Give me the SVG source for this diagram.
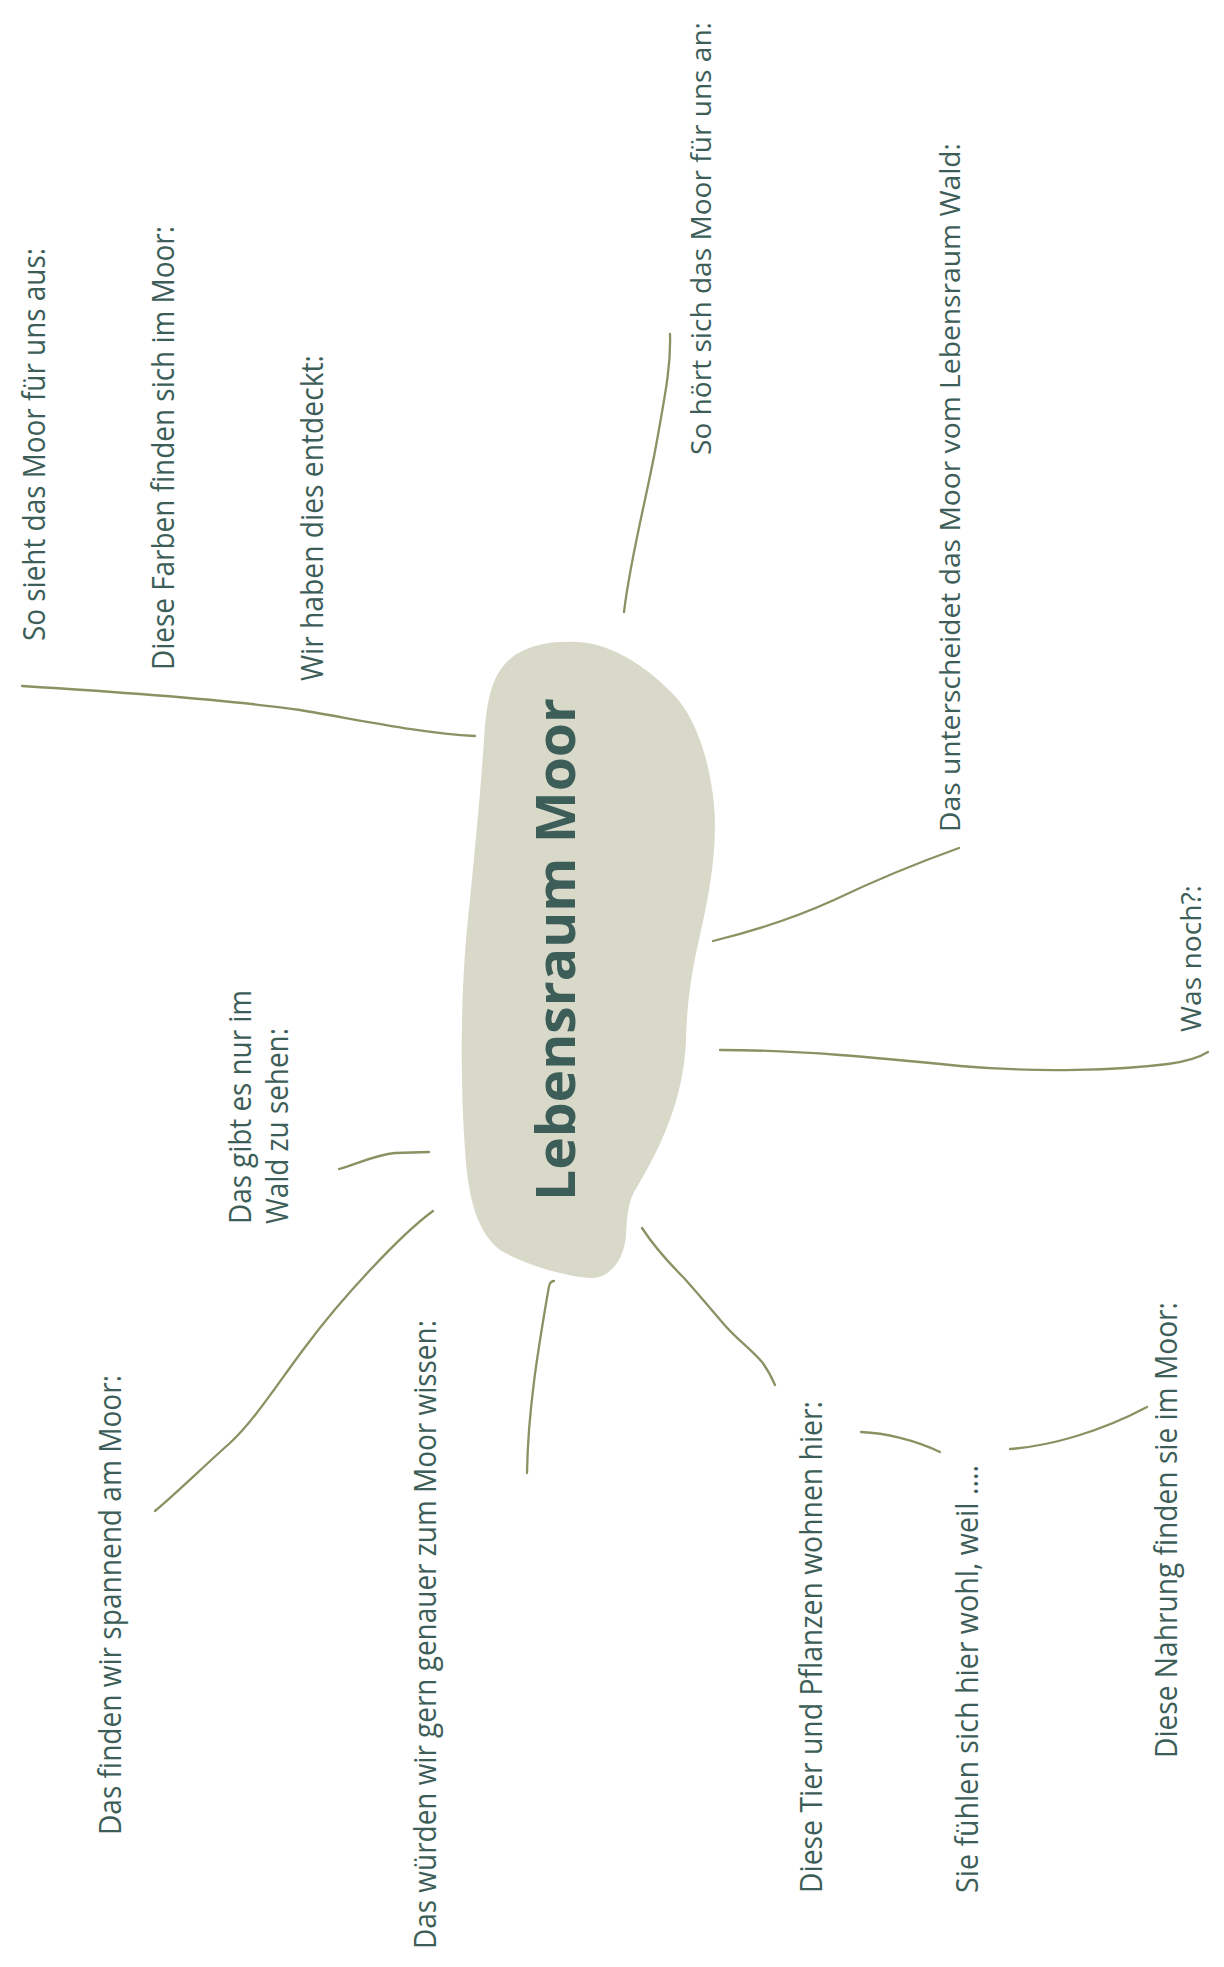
<svg xmlns="http://www.w3.org/2000/svg" width="1224" height="1967" viewBox="0 0 1224 1967">
<style>
.lbl{font-family:"Open Sans","Noto Sans","Liberation Sans",sans-serif;fill:#3d5e58;font-size:28px}
.cnd{font-family:"Open Sans","Noto Sans","Liberation Sans",sans-serif;fill:#3d5e58;font-size:31px}
.ttl{font-family:"Open Sans","Noto Sans","Liberation Sans",sans-serif;fill:#3d5e58;font-size:54px;font-weight:bold}
.con{fill:none;stroke:#8b9163;stroke-width:2.3;stroke-linecap:round}
</style>
<rect width="1224" height="1967" fill="#ffffff"/>
<g id="connectors">
<path class="con" d="M 22 686 C 120 692, 230 700, 300 710 C 360 720, 420 733, 475 736"/>
<path class="con" d="M 670 334 C 671 365, 666 390, 656 446 C 646 500, 630 560, 624 612"/>
<path class="con" d="M 959 848 C 920 862, 880 878, 834 900 C 790 920, 750 932, 713 941"/>
<path class="con" d="M 720 1050 C 800 1050, 880 1058, 960 1066 C 1040 1073, 1120 1070, 1168 1064 C 1190 1061, 1200 1057, 1208 1052"/>
<path class="con" d="M 339 1169 C 360 1163, 375 1155, 395 1153 L 429 1152"/>
<path class="con" d="M 433 1211 C 400 1235, 340 1300, 306 1346 C 280 1380, 255 1420, 230 1443 C 205 1465, 180 1490, 155 1511"/>
<path class="con" d="M 554 1281 C 550 1281, 549 1285, 548 1292 C 538 1350, 528 1410, 527 1473"/>
<path class="con" d="M 642 1228 C 655 1248, 668 1262, 684 1278 C 700 1296, 710 1308, 722 1322 C 735 1338, 750 1348, 762 1362 C 768 1370, 772 1378, 775 1385"/>
<path class="con" d="M 861 1432 C 885 1433, 915 1440, 940 1452"/>
<path class="con" d="M 1010 1449 C 1050 1446, 1100 1432, 1147 1407"/>
</g>
<g id="center">
<path fill="#d9d9c9" d="M 577 642 C 610 643, 645 665, 673 694 C 695 716, 710 760, 714 805 C 718 850, 708 900, 700 935 C 692 970, 687 1000, 686 1040 C 684 1090, 668 1135, 637 1187 C 628 1200, 627 1215, 626 1235 C 624 1262, 608 1279, 590 1278 C 560 1276, 520 1262, 500 1250 C 478 1233, 468 1200, 465 1150 C 460 1080, 461 1000, 466 940 C 472 880, 480 800, 484 740 C 487 690, 495 670, 515 655 C 535 643, 555 641, 577 642 Z"/>
<text class="ttl" transform="translate(575,1201) rotate(-90)" textLength="503" lengthAdjust="spacingAndGlyphs">Lebensraum Moor</text>
</g>
<g id="n-sieht"><text class="cnd" transform="translate(45,641) rotate(-90)" textLength="393" lengthAdjust="spacingAndGlyphs">So sieht das Moor für uns aus:</text></g>
<g id="n-farben"><text class="cnd" transform="translate(174,670) rotate(-90)" textLength="444" lengthAdjust="spacingAndGlyphs">Diese Farben finden sich im Moor:</text></g>
<g id="n-entdeckt"><text class="cnd" transform="translate(323,681) rotate(-90)" textLength="326" lengthAdjust="spacingAndGlyphs">Wir haben dies entdeckt:</text></g>
<g id="n-hoert"><text class="lbl" transform="translate(711,455) rotate(-90)" textLength="433" lengthAdjust="spacingAndGlyphs">So hört sich das Moor für uns an:</text></g>
<g id="n-unterscheidet"><text class="lbl" transform="translate(960,832) rotate(-90)" textLength="689" lengthAdjust="spacingAndGlyphs">Das unterscheidet das Moor vom Lebensraum Wald:</text></g>
<g id="n-wasnoch"><text class="lbl" transform="translate(1201,1032) rotate(-90)" textLength="147" lengthAdjust="spacingAndGlyphs">Was noch?:</text></g>
<g id="n-wald">
<text class="cnd" transform="translate(251,1224) rotate(-90)" textLength="234" lengthAdjust="spacingAndGlyphs">Das gibt es nur im</text>
<text class="cnd" transform="translate(288,1224) rotate(-90)" textLength="196" lengthAdjust="spacingAndGlyphs">Wald zu sehen:</text>
</g>
<g id="n-spannend"><text class="cnd" transform="translate(121,1835) rotate(-90)" textLength="460" lengthAdjust="spacingAndGlyphs">Das finden wir spannend am Moor:</text></g>
<g id="n-wissen"><text class="cnd" transform="translate(436,1949) rotate(-90)" textLength="629" lengthAdjust="spacingAndGlyphs">Das würden wir gern genauer zum Moor wissen:</text></g>
<g id="n-tiere"><text class="cnd" transform="translate(822,1893) rotate(-90)" textLength="492" lengthAdjust="spacingAndGlyphs">Diese Tier und Pflanzen wohnen hier:</text></g>
<g id="n-wohl"><text class="cnd" transform="translate(978,1893) rotate(-90)" textLength="428" lengthAdjust="spacingAndGlyphs">Sie fühlen sich hier wohl, weil ....</text></g>
<g id="n-nahrung"><text class="cnd" transform="translate(1177,1758) rotate(-90)" textLength="456" lengthAdjust="spacingAndGlyphs">Diese Nahrung finden sie im Moor:</text></g>
</svg>
